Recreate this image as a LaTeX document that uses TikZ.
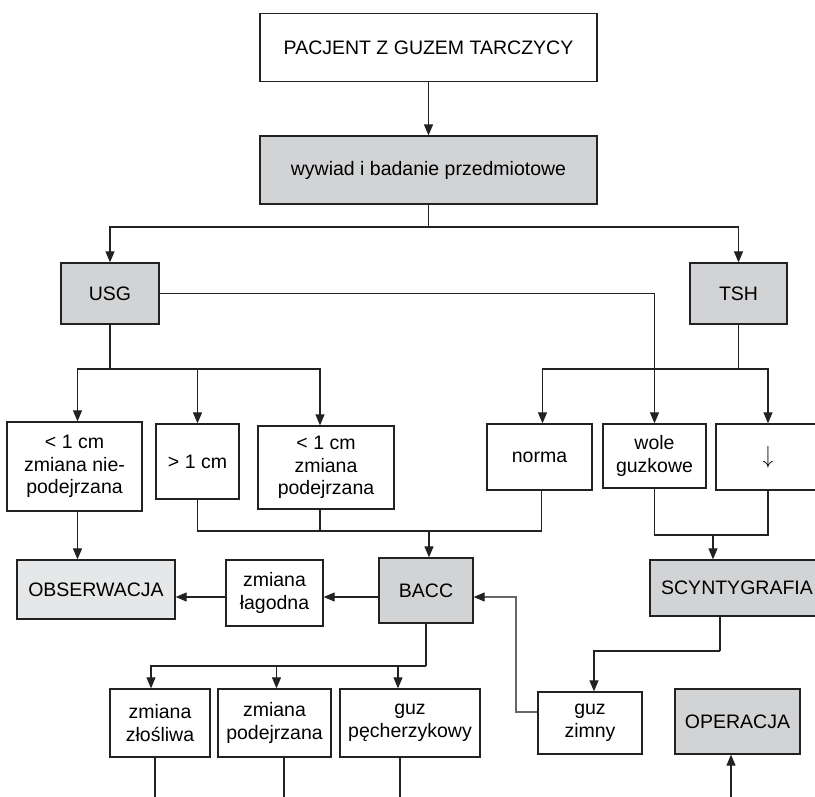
\documentclass[tikz,border=0pt]{standalone}
\usepackage{fontspec}
\setmainfont{Liberation Sans}
\usetikzlibrary{arrows.meta}
\definecolor{lc}{HTML}{222222}
\definecolor{lc2}{HTML}{666666}
\definecolor{g1}{HTML}{D2D3D5}
\definecolor{g2}{HTML}{E6E7E8}
\newcommand\myfs{\fontsize{19.5}{22.5}\selectfont}
\tikzset{
  box/.style={draw=lc, line width=1.3pt, fill=white, inner sep=2pt, align=center, font=\myfs},
  gbox/.style={box, fill=g1},
  lbox/.style={box, fill=g2},
  ln/.style={draw=lc, line width=1.2pt},
  arr/.style={ln, -{Triangle[length=11pt,width=9pt,color=lc]}},
}
\begin{document}
\begin{tikzpicture}[x=1pt,y=-1pt]
\useasboundingbox (0,0) rectangle (815,797);
\clip (0,0) rectangle (815,797);
\fill[white] (0,0) rectangle (815,797);
% nodes
\node[box, minimum width=337, minimum height=68] (p) at (428.5,47.5) {PACJENT Z GUZEM TARCZYCY};
\node[gbox, minimum width=337, minimum height=68] (w) at (428.5,170) {wywiad i badanie przedmiotowe};
\node[gbox, minimum width=98, minimum height=61] (usg) at (110,293.5) {USG};
\node[gbox, minimum width=97, minimum height=61] (tsh) at (738.5,293.5) {TSH};
\node[box, minimum width=135, minimum height=89] (b1) at (74.5,466.5) {< 1 cm\\zmiana nie-\\podejrzana};
\node[box, minimum width=83, minimum height=75] (b2) at (197.5,461.5) {> 1 cm};
\node[box, minimum width=136, minimum height=83] (b3) at (326,467.5) {< 1 cm\\zmiana\\podejrzana};
\node[box, minimum width=105, minimum height=66] (norma) at (539.5,457) {norma};
\node[box, minimum width=103, minimum height=64] (wole) at (654.5,456) {wole\\guzkowe};
\node[box, minimum width=104, minimum height=66] (dn) at (768,457) {\scalebox{1}[1.2]{$\downarrow$}};
\node[lbox, minimum width=158, minimum height=59] (obs) at (96,589.5) {OBSERWACJA};
\node[box, minimum width=97, minimum height=66] (lag) at (274.5,593) {zmiana\\łagodna};
\node[gbox, minimum width=94, minimum height=65] (bacc) at (426,590.5) {BACC};
\node[gbox, minimum width=174, minimum height=56] (scy) at (737,588) {SCYNTYGRAFIA};
\node[box, minimum width=100, minimum height=68] (zl) at (160,723) {zmiana\\złośliwa};
\node[box, minimum width=113, minimum height=68] (pd) at (274.5,723) {zmiana\\podejrzana};
\node[box, minimum width=140, minimum height=68] (pc) at (410,723) {guz\\pęcherzykowy};
\node[box, minimum width=104, minimum height=62] (gz) at (590,723) {guz\\zimny};
\node[gbox, minimum width=125, minimum height=65] (op) at (737.5,721.5) {OPERACJA};
% helper coordinates
\coordinate (j0) at (0,227);
\coordinate (j1) at (0,369);
\coordinate (j2) at (0,531);
\coordinate (j3) at (0,535);
\coordinate (y1) at (0,597);
\coordinate (j4) at (0,666);
\coordinate (j5) at (0,651);
\coordinate (k1) at (516,597);
\coordinate (k0) at (0,712);
\coordinate (bt) at (0,800);
% connectors
\draw[arr] (p) -- (w);
\draw[ln] (w.south) -- (w.south |- j0);
\draw[arr] (w.south |- j0) -| (usg.north);
\draw[arr] (w.south |- j0) -| (tsh.north);
\draw[arr] (usg.east) -| (wole.north);
\draw[ln] (usg.south) -- (usg.south |- j1);
\draw[arr] (usg.south |- j1) -| ([xshift=3]b1.north);
\draw[arr] (usg.south |- j1) -| (b2.north);
\draw[arr] (usg.south |- j1) -| ([xshift=-6]b3.north);
\draw[ln] (tsh.south) -- (tsh.south |- j1);
\draw[arr] (tsh.south |- j1) -| ([xshift=3]norma.north);
\draw[arr] (tsh.south |- j1) -| (dn.north);
\draw[ln] (b2.south) |- ([xshift=2]norma.south |- j2) -- ([xshift=2]norma.south);
\draw[ln] ([xshift=-6]b3.south) -- ([xshift=-6]b3.south |- j2);
\draw[arr] ([xshift=3]bacc.north |- j2) -- ([xshift=3]bacc.north);
\draw[arr] ([xshift=3]b1.south) -- ([xshift=3]b1.south |- obs.north);
\draw[ln] (wole.south) |- (dn.south |- j3) -- (dn.south);
\draw[arr] ([xshift=-24]scy.north |- j3) -- ([xshift=-24]scy.north);
\draw[arr] (bacc.west |- y1) -- (lag.east |- y1);
\draw[arr] (lag.west |- y1) -- (obs.east |- y1);
\draw[ln] (bacc.south) -- (bacc.south |- j4);
\draw[arr] (bacc.south |- j4) -| ([xshift=-9]zl.north);
\draw[arr] (bacc.south |- j4) -| ([xshift=2]pd.north);
\draw[arr] (bacc.south |- j4) -| ([xshift=-12]pc.north);
\draw[ln] ([xshift=-17]scy.south) -- ([xshift=-17]scy.south |- j5);
\draw[arr] ([xshift=-17]scy.south |- j5) -| ([xshift=4]gz.north);
\draw[arr, draw=lc2] (gz.west |- k0) -| (k1) -- (bacc.east |- k1);
\draw[ln] ([xshift=-5]zl.south) -- ([xshift=-5]zl.south |- bt);
\draw[ln] ([xshift=9.5]pd.south) -- ([xshift=9.5]pd.south |- bt);
\draw[ln] ([xshift=-10]pc.south) -- ([xshift=-10]pc.south |- bt);
\draw[arr] ([xshift=-6.5]op.south |- bt) -- ([xshift=-6.5]op.south);
\end{tikzpicture}
\end{document}
